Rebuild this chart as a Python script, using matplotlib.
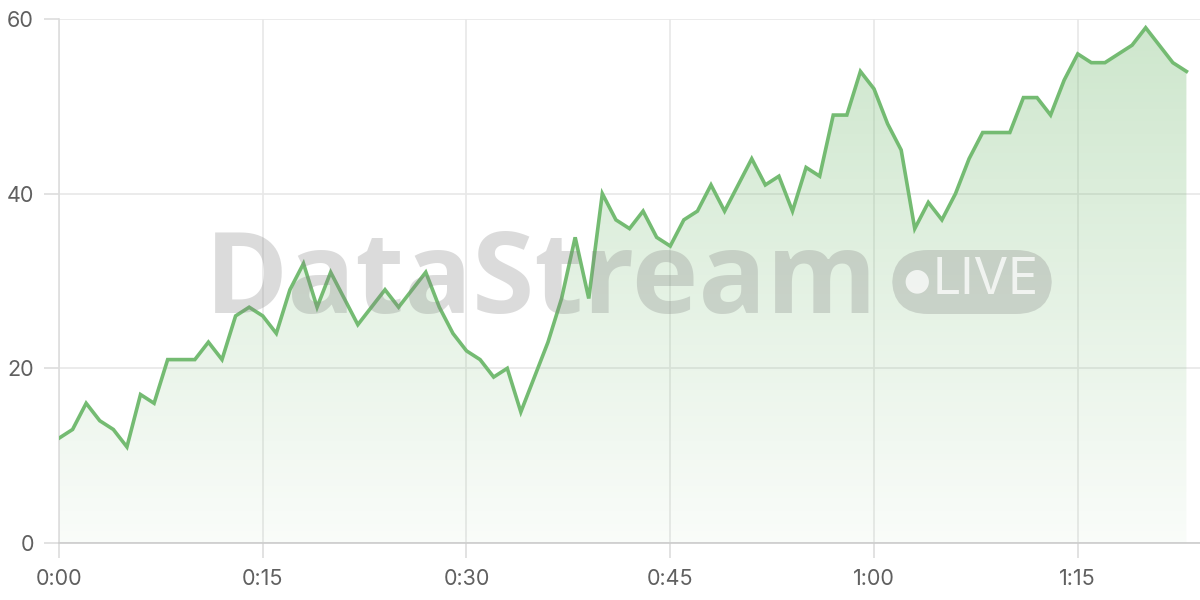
import numpy as np
import matplotlib
matplotlib.use('Agg')
import matplotlib.pyplot as plt
import matplotlib.ticker as ticker
from matplotlib.colors import LinearSegmentedColormap
from matplotlib.patches import FancyBboxPatch

plt.rcParams['font.family'] = ['Inter', 'DejaVu Sans']

# minute index and value
minutes = list(range(84))
values = [12, 13, 16, 14, 13, 11, 17, 16, 21, 21,
          21, 23, 21, 26, 27, 26, 24, 29, 32, 27,
          31, 28, 25, 27, 29, 27, 29, 31, 27, 24,
          22, 21, 19, 20, 15, 19, 23, 28, 35, 28,
          40, 37, 36, 38, 35, 34, 37, 38, 41, 38,
          41, 44, 41, 42, 38, 43, 42, 49, 49, 54,
          52, 48, 45, 36, 39, 37, 40, 44, 47, 47,
          47, 51, 51, 49, 53, 56, 55, 55, 56, 57,
          59, 57, 55, 54]
tick_minutes = [0, 15, 30, 45, 60, 75]
y_ticks = [0, 20, 40, 60]

line_color = '#74bb72'
grid_color = '#e8e8e8'

fig = plt.figure(figsize=(12, 6), dpi=100)
ax = fig.add_axes([59 / 1200, 57 / 600, 1141 / 1200, 524 / 600])

x = np.array(minutes)
y = np.array(values)

ax.set_xlim(0, 84)
ax.set_ylim(0, 60)

# gradient fill under the line
cmap = LinearSegmentedColormap.from_list(
    'fade', [(0.455, 0.733, 0.447, 0.04), (0.455, 0.733, 0.447, 0.36)])
grad = np.linspace(0, 1, 256).reshape(-1, 1)
img = ax.imshow(grad, cmap=cmap, origin='lower', aspect='auto',
                extent=(0, 84, 0, 60), zorder=1)
poly = ax.fill_between(x, y, 0, color='none', lw=0)
img.set_clip_path(poly.get_paths()[0], transform=ax.transData)

ax.plot(x, y, color=line_color, lw=2.6, zorder=4, solid_joinstyle='miter')

# watermark
fig.text(541 / 1200, 1 - 313 / 600, 'DataStream', fontsize=81,
         fontweight='bold', family=['Open Sans', 'DejaVu Sans'],
         color='#808080', alpha=0.28, ha='center', va='baseline', zorder=3)
badge = FancyBboxPatch((892 / 1200, 1 - 314 / 600), 160 / 1200, 64 / 600,
                       boxstyle='round,pad=0,rounding_size=0.03',
                       transform=fig.transFigure, facecolor='#808080',
                       alpha=0.28, edgecolor='none', zorder=3,
                       mutation_aspect=2)
fig.add_artist(badge)
fig.text(917 / 1200, 1 - 281 / 600, '\u25cf', color='white', alpha=0.75,
         fontsize=22, ha='center', va='center', family='DejaVu Sans')
fig.text(986 / 1200, 1 - 281 / 600, 'LIVE', color='white', alpha=0.75,
         fontsize=36, ha='center', va='center')

# grid and axes styling
ax.set_xticks(tick_minutes)
ax.set_yticks(y_ticks)
ax.xaxis.set_major_formatter(
    ticker.FuncFormatter(lambda v, p: f'{int(v) // 60}:{int(v) % 60:02d}'))
ax.grid(True, color=grid_color, lw=1.2, zorder=0)
ax.set_axisbelow(True)
for side in ['top', 'right']:
    ax.spines[side].set_visible(False)
ax.spines['left'].set_color('#dddddd')
ax.spines['left'].set_linewidth(1.2)
ax.spines['bottom'].set_color('#cccccc')
ax.spines['bottom'].set_linewidth(1.2)
ax.tick_params(axis='both', colors='#dddddd', length=11, width=1.2,
               labelcolor='#606060', labelsize=15.5)
ax.tick_params(axis='y', pad=7)
ax.tick_params(axis='x', pad=8)

plt.savefig('out.png', dpi=100)
